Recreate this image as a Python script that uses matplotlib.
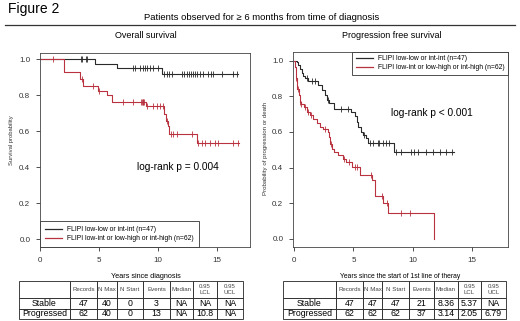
import numpy as np
import matplotlib.pyplot as plt
from matplotlib.lines import Line2D

plt.rcParams['font.family'] = ['Liberation Sans', 'DejaVu Sans']

BLK = '#2a2a2a'
RED = '#b8323f'

# overall survival, FLIPI low-low / int-int
os_lo_t = [0, 4.7, 6.55, 10.3]
os_lo_s = [1.0, 0.976, 0.954, 0.917]
os_lo_end = 16.8
os_lo_cens = [3.45, 3.6, 3.9, 3.96, 7.9, 8.05, 8.47, 8.76, 8.9, 9.04, 9.32, 9.6, 10.0,
              10.5, 10.74, 10.96, 11.2, 12.0, 12.2, 12.43, 12.63, 12.77, 12.94, 13.14,
              13.33, 13.56, 13.79, 14.26, 14.47, 14.64, 15.4, 16.38, 16.72]
# overall survival, FLIPI low-int / low-high / int-high
os_hi_t = [0, 2.06, 3.39, 3.67, 4.94, 5.65, 6.07, 8.98, 10.5, 10.68, 10.85, 10.96, 13.33]
os_hi_s = [1.0, 0.932, 0.891, 0.850, 0.826, 0.80, 0.762, 0.743, 0.697, 0.66, 0.629, 0.586, 0.535]
os_hi_end = 16.9
os_hi_cens = [1.13, 3.53, 4.52, 5.03, 7.06, 7.9, 8.6, 8.65, 8.7, 8.75, 8.8, 9.04, 9.6, 9.89,
              10.17, 10.45, 10.8, 11.07, 11.3, 11.58, 12.85, 13.42, 13.7, 13.98, 14.4,
              14.83, 15.1, 16.38, 16.8]

# progression free survival
pfs_lo_t = [0, 0.25, 0.35, 0.53, 0.67, 0.8, 0.94, 1.22, 2.06, 2.33, 2.61, 2.75, 2.94, 3.35,
            4.8, 5.14, 5.28, 5.42, 5.6, 5.78, 6.06, 6.19, 8.39]
pfs_lo_s = [1.0, 0.99, 0.977, 0.954, 0.932, 0.913, 0.902, 0.883, 0.861, 0.833, 0.805, 0.777,
            0.76, 0.73, 0.71, 0.69, 0.655, 0.627, 0.6, 0.584, 0.566, 0.54, 0.489]
pfs_lo_end = 13.44
pfs_lo_cens = [1.08, 1.5, 1.8, 2.9, 3.97, 4.53, 5.9, 6.36, 6.64, 7.06, 7.19, 7.47, 7.75, 7.97,
               8.6, 9.0, 9.85, 10.1, 10.4, 11.1, 11.7, 12.3, 12.8, 13.3]

pfs_hi_t = [0, 0.05, 0.15, 0.25, 0.39, 0.5, 0.6, 0.81, 1.08, 1.36, 1.64, 1.92, 2.19, 2.47,
            2.83, 2.94, 3.03, 3.17, 3.4, 3.7, 4.1, 4.4, 4.9, 5.55, 6.58, 6.78, 6.85, 7.5,
            7.94, 11.75]
pfs_hi_s = [1.0, 0.964, 0.90, 0.842, 0.808, 0.768, 0.755, 0.74, 0.711, 0.693, 0.674, 0.652,
            0.627, 0.618, 0.6, 0.571, 0.534, 0.506, 0.49, 0.47, 0.45, 0.43, 0.405, 0.36,
            0.33, 0.303, 0.24, 0.2, 0.147, 0.0]
pfs_hi_end = 11.75
pfs_hi_cens = [0.2, 0.3, 0.55, 0.6, 0.9, 1.2, 1.45, 2.6, 3.1, 4.2, 4.6, 5.1, 5.3, 6.5, 7.44,
               7.83, 9.0, 9.8]

lab_lo = 'FLIPI low-low or int-int (n=47)'
lab_hi = 'FLIPI low-int or low-high or int-high (n=62)'

col_labels = ['', 'Records', 'N Max', 'N Start', 'Events', 'Median', '0.95\nLCL', '0.95\nUCL']
os_rows = [['Stable', '47', '40', '0', '3', 'NA', 'NA', 'NA'],
           ['Progressed', '62', '40', '0', '13', 'NA', '10.8', 'NA']]
pfs_rows = [['Stable', '47', '47', '47', '21', '8.36', '5.37', 'NA'],
            ['Progressed', '62', '62', '62', '37', '3.14', '2.05', '6.79']]


def km(ax, t, s, end, cens, col):
    t = np.asarray(t)
    s = np.asarray(s)
    ax.step(np.append(t, end), np.append(s, s[-1]), where='post', color=col, lw=0.8)
    idx = np.searchsorted(t, cens, side='right') - 1
    ax.plot(cens, s[idx], ls='none', marker='|', ms=4, mew=0.6, color=col)


def style(ax, xlim, ylim):
    ax.set_xlim(*xlim)
    ax.set_ylim(*ylim)
    ax.set_xticks([0, 5, 10, 15])
    ax.set_yticks([0, 0.2, 0.4, 0.6, 0.8, 1.0])
    ax.set_yticklabels(['0.0', '0.2', '0.4', '0.6', '0.8', '1.0'])
    ax.tick_params(direction='out', length=3, width=0.6, labelsize=5.8, pad=4, colors='#333333')
    for sp in ax.spines.values():
        sp.set_linewidth(0.6)
        sp.set_color('#444444')


def add_legend(ax, loc, pad):
    leg = ax.legend([Line2D([], [], color=BLK, lw=0.9), Line2D([], [], color=RED, lw=0.9)],
                    [lab_lo, lab_hi], loc=loc, borderaxespad=0, fontsize=4.9, fancybox=False,
                    edgecolor='#333333', framealpha=1, handlelength=2.5, borderpad=pad,
                    labelspacing=0.3)
    leg.get_frame().set_linewidth(0.6)


def table(rect, rows, widths):
    tax = fig.add_axes(rect)
    tax.axis('off')
    tab = tax.table(cellText=rows, colLabels=col_labels, cellLoc='center',
                    colWidths=widths, bbox=[0, 0, 1, 1])
    tab.auto_set_font_size(False)
    for (r, c), cell in tab.get_celld().items():
        cell.set_linewidth(0.6)
        cell.set_edgecolor('#222222')
        if r == 0:
            cell.set_height(cell.get_height() * 1.7)
            cell.get_text().set_fontsize(4.4)
            cell.get_text().set_color('#444444')
        else:
            cell.get_text().set_fontsize(6.3)


fig = plt.figure(figsize=(5.2, 3.21), dpi=100)

fig.text(8 / 520, 1 - 9 / 321, 'Figure 2', fontsize=10, ha='left', va='center')
fig.text(262 / 520, 1 - 17 / 321, 'Patients observed for \u2265 6 months from time of diagnosis',
         fontsize=6.8, ha='center', va='center')
fig.add_artist(Line2D([5 / 520, 515 / 520], [1 - 25 / 321, 1 - 25 / 321], color='#333333', lw=0.9))

# left: overall survival
ax1 = fig.add_axes([40 / 520, 1 - 247 / 321, 210 / 520, 194 / 321])
km(ax1, os_lo_t, os_lo_s, os_lo_end, os_lo_cens, BLK)
km(ax1, os_hi_t, os_hi_s, os_hi_end, os_hi_cens, RED)
style(ax1, (0, 17.8), (-0.042, 1.035))
ax1.text(8.2, 0.4, 'log-rank p = 0.004', fontsize=7.3, ha='left', va='center')
add_legend(ax1, 'lower left', 0.7)
fig.text(146 / 520, 1 - 35 / 321, 'Overall survival', fontsize=6.5, ha='center', va='center')
fig.text(12 / 520, 1 - 140 / 321, 'Survival probability', fontsize=4.2, rotation=90,
         ha='center', va='center', color='#333333')
fig.text(146 / 520, 1 - 276 / 321, 'Years since diagnosis', fontsize=5.2, ha='center', va='center')

# right: progression free survival
ax2 = fig.add_axes([293 / 520, 1 - 247 / 321, 215 / 520, 195 / 321])
km(ax2, pfs_lo_t, pfs_lo_s, pfs_lo_end, pfs_lo_cens, BLK)
km(ax2, pfs_hi_t, pfs_hi_s, pfs_hi_end, pfs_hi_cens, RED)
style(ax2, (-0.08, 18.0), (-0.045, 1.048))
ax2.text(8.2, 0.705, 'log-rank p < 0.001', fontsize=7.3, ha='left', va='center')
add_legend(ax2, 'upper right', 0.5)
fig.text(392 / 520, 1 - 35 / 321, 'Progression free survival', fontsize=6.5, ha='center', va='center')
fig.text(265 / 520, 1 - 148 / 321, 'Probability of progression or death', fontsize=4.4, rotation=90,
         ha='center', va='center', color='#333333')
fig.text(400 / 520, 1 - 276 / 321, 'Years since the start of 1st line of theray', fontsize=4.9,
         ha='center', va='center')

table([19 / 520, 2 / 321, 224 / 520, 38 / 321], os_rows, [51, 27, 20, 26, 27, 23, 24, 26])
table([283 / 520, 2 / 321, 223 / 520, 38 / 321], pfs_rows, [53, 27, 19, 27, 25, 24, 23, 25])

fig.savefig('out.png', dpi=100)
